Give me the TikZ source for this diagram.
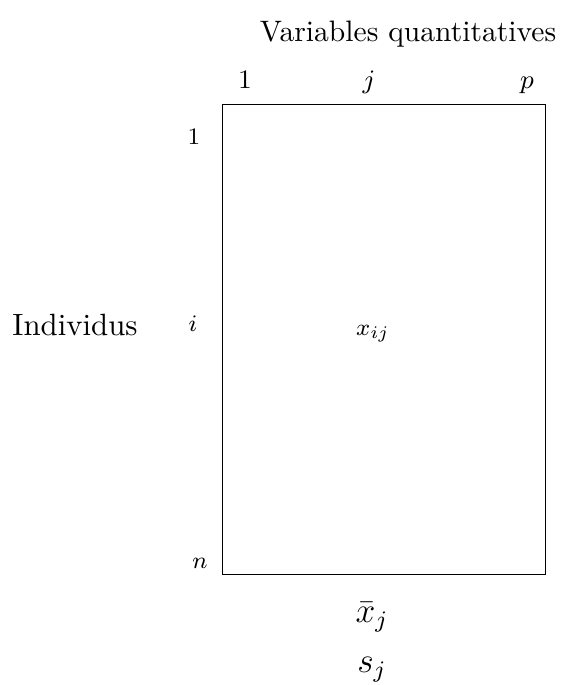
\documentclass[tikz,border=0pt]{standalone}
\begin{document}
\begin{tikzpicture}[x=0.338pt,y=-0.338pt,
  toplab/.style={font=\small,anchor=base,inner sep=0pt},
  sidelab/.style={font=\footnotesize,anchor=base,inner sep=0pt},
  big/.style={font=\normalsize,anchor=base,inner sep=0pt},
  stat/.style={font=\large,anchor=base,inner sep=0pt}]
\useasboundingbox (0,0) rectangle (561,685);
\node[draw,line width=0.4pt,minimum width=323*0.338pt,minimum height=470*0.338pt,inner sep=0pt,anchor=north west] (tab) at (222,104) {};
\node[big] (title) at (408,42) {Variables quantitatives};
\node[toplab] (c1) at (245,89) {$1$};
\node[toplab] (cj) at (369,89) {$j$};
\node[toplab] (cp) at (527,89) {$p$};
\node[sidelab] (r1) at (194,145) {$1$};
\node[sidelab] (ri) at (193,332) {$i$};
\node[sidelab] (rn) at (200,568) {$n$};
\node[big,scale=1.04] (ind) at (75,335) {Individus};
\node[sidelab] (xij) at (373,335) {$x_{ij}$};
\node[stat] (xbar) at (372,622) {$\bar{x}_j$};
\node[stat] (sj) at (372,672) {$s_j$};
\end{tikzpicture}
\end{document}
